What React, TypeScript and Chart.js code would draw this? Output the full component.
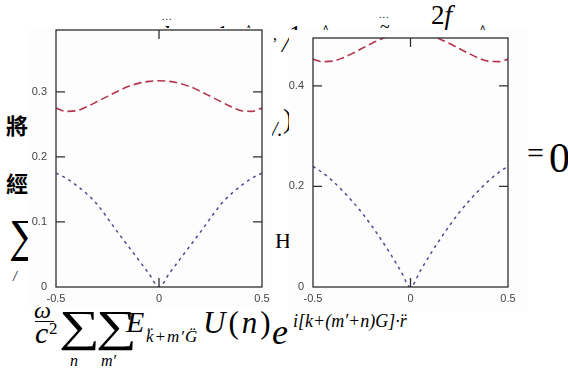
import React, { useEffect, useRef } from "react";
import { Chart, registerables } from "chart.js";

Chart.register(...registerables);

// ---- data ----
const kValues = [-0.5, -0.45, -0.4, -0.35, -0.3, -0.25, -0.2, -0.15, -0.1, -0.05, 0, 0.05, 0.1, 0.15, 0.2, 0.25, 0.3, 0.35, 0.4, 0.45, 0.5];
const leftUpper = [0.275, 0.27, 0.271, 0.277, 0.285, 0.293, 0.301, 0.308, 0.313, 0.316, 0.317, 0.316, 0.313, 0.308, 0.301, 0.293, 0.285, 0.277, 0.271, 0.27, 0.275];
const leftLower = [0.175, 0.167, 0.156, 0.143, 0.127, 0.106, 0.084, 0.063, 0.042, 0.021, 0, 0.021, 0.042, 0.063, 0.084, 0.106, 0.127, 0.143, 0.156, 0.167, 0.175];
const rightUpper = [0.453, 0.448, 0.449, 0.455, 0.464, 0.474, 0.484, 0.493, 0.501, 0.506, 0.508, 0.506, 0.501, 0.493, 0.484, 0.474, 0.464, 0.455, 0.449, 0.448, 0.453];
const rightLower = [0.24, 0.227, 0.211, 0.192, 0.171, 0.148, 0.122, 0.094, 0.064, 0.032, 0, 0.032, 0.064, 0.094, 0.122, 0.148, 0.171, 0.192, 0.211, 0.227, 0.24];
const xTicks = [-0.5, 0, 0.5];
const leftYTicks = [0, 0.1, 0.2, 0.3];
const rightYTicks = [0, 0.2, 0.4];

const SERIF = '"Liberation Serif", "Times New Roman", serif';
const SANS = '"Liberation Sans", Arial, sans-serif';
const CJK = '"Noto Sans CJK TC", "Noto Sans CJK SC", sans-serif';
const RED = "#b3344c";
const BLUE = "#4b4b96";

const fmt = (v: number) => String(Math.round(v * 10) / 10);

const framePlugin = {
  id: "frame",
  afterDatasetsDraw(chart: any) {
    const { ctx, chartArea: a, scales } = chart;
    const L = 9;
    ctx.save();
    ctx.strokeStyle = "#2e2e2e";
    ctx.lineWidth = 1.3;
    ctx.strokeRect(a.left, a.top, a.right - a.left, a.bottom - a.top);
    ctx.beginPath();
    scales.y.ticks.forEach((t: any) => {
      if (t.value <= scales.y.min || t.value >= scales.y.max) return;
      const py = scales.y.getPixelForValue(t.value);
      ctx.moveTo(a.left, py);
      ctx.lineTo(a.left + L, py);
      ctx.moveTo(a.right, py);
      ctx.lineTo(a.right - L, py);
    });
    scales.x.ticks.forEach((t: any) => {
      if (t.value <= scales.x.min || t.value >= scales.x.max) return;
      const px = scales.x.getPixelForValue(t.value);
      ctx.moveTo(px, a.top);
      ctx.lineTo(px, a.top + L);
      ctx.moveTo(px, a.bottom);
      ctx.lineTo(px, a.bottom - L);
    });
    ctx.stroke();
    ctx.restore();
  },
};

type BoxProps = {
  left: number; top: number; width: number; height: number;
  padTop: number; padRight: number; yWidth: number; xHeight: number;
  yMax: number; yTicks: number[]; upper: number[]; lower: number[];
};

function BandChart(p: BoxProps) {
  const ref = useRef<HTMLCanvasElement>(null);
  useEffect(() => {
    if (!ref.current) return;
    const pts = (arr: number[]) => kValues.map((k, i) => ({ x: k, y: arr[i] }));
    const tickFont = { family: SANS, size: 11 };
    const chart = new Chart(ref.current, {
      type: "line",
      data: {
        datasets: [
          { data: pts(p.upper), borderColor: RED, borderWidth: 1.6, borderDash: [8, 4], pointRadius: 0, cubicInterpolationMode: "monotone", fill: false },
          { data: pts(p.lower), borderColor: BLUE, borderWidth: 1.5, borderDash: [3, 4], pointRadius: 0, cubicInterpolationMode: "monotone", fill: false },
        ],
      },
      options: {
        animation: false,
        responsive: false,
        devicePixelRatio: 1,
        layout: { padding: { top: p.padTop, right: p.padRight, left: 0, bottom: 0 } },
        plugins: { legend: { display: false }, tooltip: { enabled: false } },
        scales: {
          x: {
            type: "linear", min: -0.5, max: 0.5,
            afterBuildTicks: (s: any) => { s.ticks = xTicks.map((v) => ({ value: v })); },
            afterFit: (s: any) => { s.height = p.xHeight; s.paddingLeft = 0; s.paddingRight = 0; },
            grid: { display: false, drawTicks: false },
            border: { display: false },
            ticks: { padding: 5, font: tickFont, color: "#444", callback: (v: any) => fmt(Number(v)), maxRotation: 0, autoSkip: false },
          },
          y: {
            type: "linear", min: 0, max: p.yMax,
            afterBuildTicks: (s: any) => { s.ticks = p.yTicks.map((v) => ({ value: v })); },
            afterFit: (s: any) => { s.width = p.yWidth; s.paddingTop = 0; s.paddingBottom = 0; },
            grid: { display: false, drawTicks: false },
            border: { display: false },
            ticks: { padding: 9, font: tickFont, color: "#444", callback: (v: any) => fmt(Number(v)), autoSkip: false },
          },
        },
      },
      plugins: [framePlugin],
    } as any);
    return () => chart.destroy();
  }, []);
  return (
    <div style={{ position: "absolute", left: p.left, top: p.top, width: p.width, height: p.height, background: "#fdfdfd" }}>
      <canvas ref={ref} width={p.width} height={p.height} style={{ display: "block", width: p.width, height: p.height }} />
    </div>
  );
}

function T(props: { x: number; y: number; size: number; italic?: boolean; family?: string; ls?: number; sx?: number; children: React.ReactNode }) {
  const { x, y, size, italic, family = SERIF, ls = 0, sx = 1, children } = props;
  return (
    <span style={{ position: "absolute", left: x, top: y - 0.8375 * size, fontSize: size, lineHeight: `${size}px`, fontStyle: italic ? "italic" : "normal", fontFamily: family, whiteSpace: "pre", color: "#000", letterSpacing: ls, transform: sx !== 1 ? `scaleX(${sx})` : undefined, transformOrigin: "left center" }}>
      {children}
    </span>
  );
}

export default function App() {
  return (
    <div style={{ position: "fixed", left: 0, top: 0, width: 568, height: 377, background: "#fff", overflow: "hidden" }}>
      {/* background document text */}
      <T x={162} y={20} size={10} ls={1}>...</T>
      <T x={163} y={44} size={26} italic>k</T>
      <T x={216} y={44} size={26}>1</T>
      <T x={244} y={39} size={20}>^</T>
      <T x={289} y={44} size={26}>1</T>
      <T x={321} y={39} size={20}>^</T>
      <T x={379} y={18} size={10} ls={1}>...</T>
      <T x={380} y={33} size={18}>~</T>
      <T x={431} y={25} size={27}>2<i>f</i></T>
      <T x={478} y={39} size={20}>^</T>

      <span style={{ position: "absolute", left: 6, top: 113, fontSize: 22, lineHeight: "22px", fontFamily: CJK, fontWeight: 700 }}>將</span>
      <span style={{ position: "absolute", left: 6, top: 171, fontSize: 22, lineHeight: "22px", fontFamily: CJK, fontWeight: 700 }}>經</span>
      <T x={9} y={252} size={46}>∑</T>
      <T x={13} y={282} size={14} italic>/</T>

      <T x={273} y={40} size={16}>,</T>
      <T x={272} y={136} size={20} italic>/.</T>
      <T x={275} y={248} size={22}>H</T>
      <T x={282} y={52} size={24} italic>/</T>
      <T x={283} y={128} size={28}>)</T>
      <T x={527} y={163} size={30}>=</T>
      <T x={549} y={172} size={42}>0</T>

      {/* bottom formula */}
      <T x={34} y={318} size={24} italic>ω</T>
      <div style={{ position: "absolute", left: 35, top: 321, width: 19, height: 1.3, background: "#000" }} />
      <T x={35} y={343} size={30} italic>c</T>
      <T x={49} y={334} size={17}>2</T>
      <T x={59} y={342} size={44} sx={1.3}>∑</T>
      <T x={70} y={366} size={16} italic>n</T>
      <T x={96} y={342} size={44} sx={1.3}>∑</T>
      <T x={101} y={366} size={16} italic>m′</T>
      <T x={126} y={332} size={30} italic>E</T>
      <T x={146} y={342} size={17} italic ls={1}>{"k\u0308+m\u2032G\u0308"}</T>
      <T x={203} y={333} size={31} ls={3}><i>U</i>(<i>n</i>)</T>
      <T x={272} y={344} size={36} italic>e</T>
      <T x={293} y={327} size={18} italic>{"i[k+(m\u2032+n)G]\u00b7r\u0308"}</T>

      <BandChart left={28} top={28} width={244} height={279} padTop={2} padRight={10} yWidth={28} xHeight={20} yMax={0.395} yTicks={leftYTicks} upper={leftUpper} lower={leftLower} />
      <BandChart left={289} top={30} width={238} height={282} padTop={8} padRight={19} yWidth={24} xHeight={25} yMax={0.495} yTicks={rightYTicks} upper={rightUpper} lower={rightLower} />
    </div>
  );
}
